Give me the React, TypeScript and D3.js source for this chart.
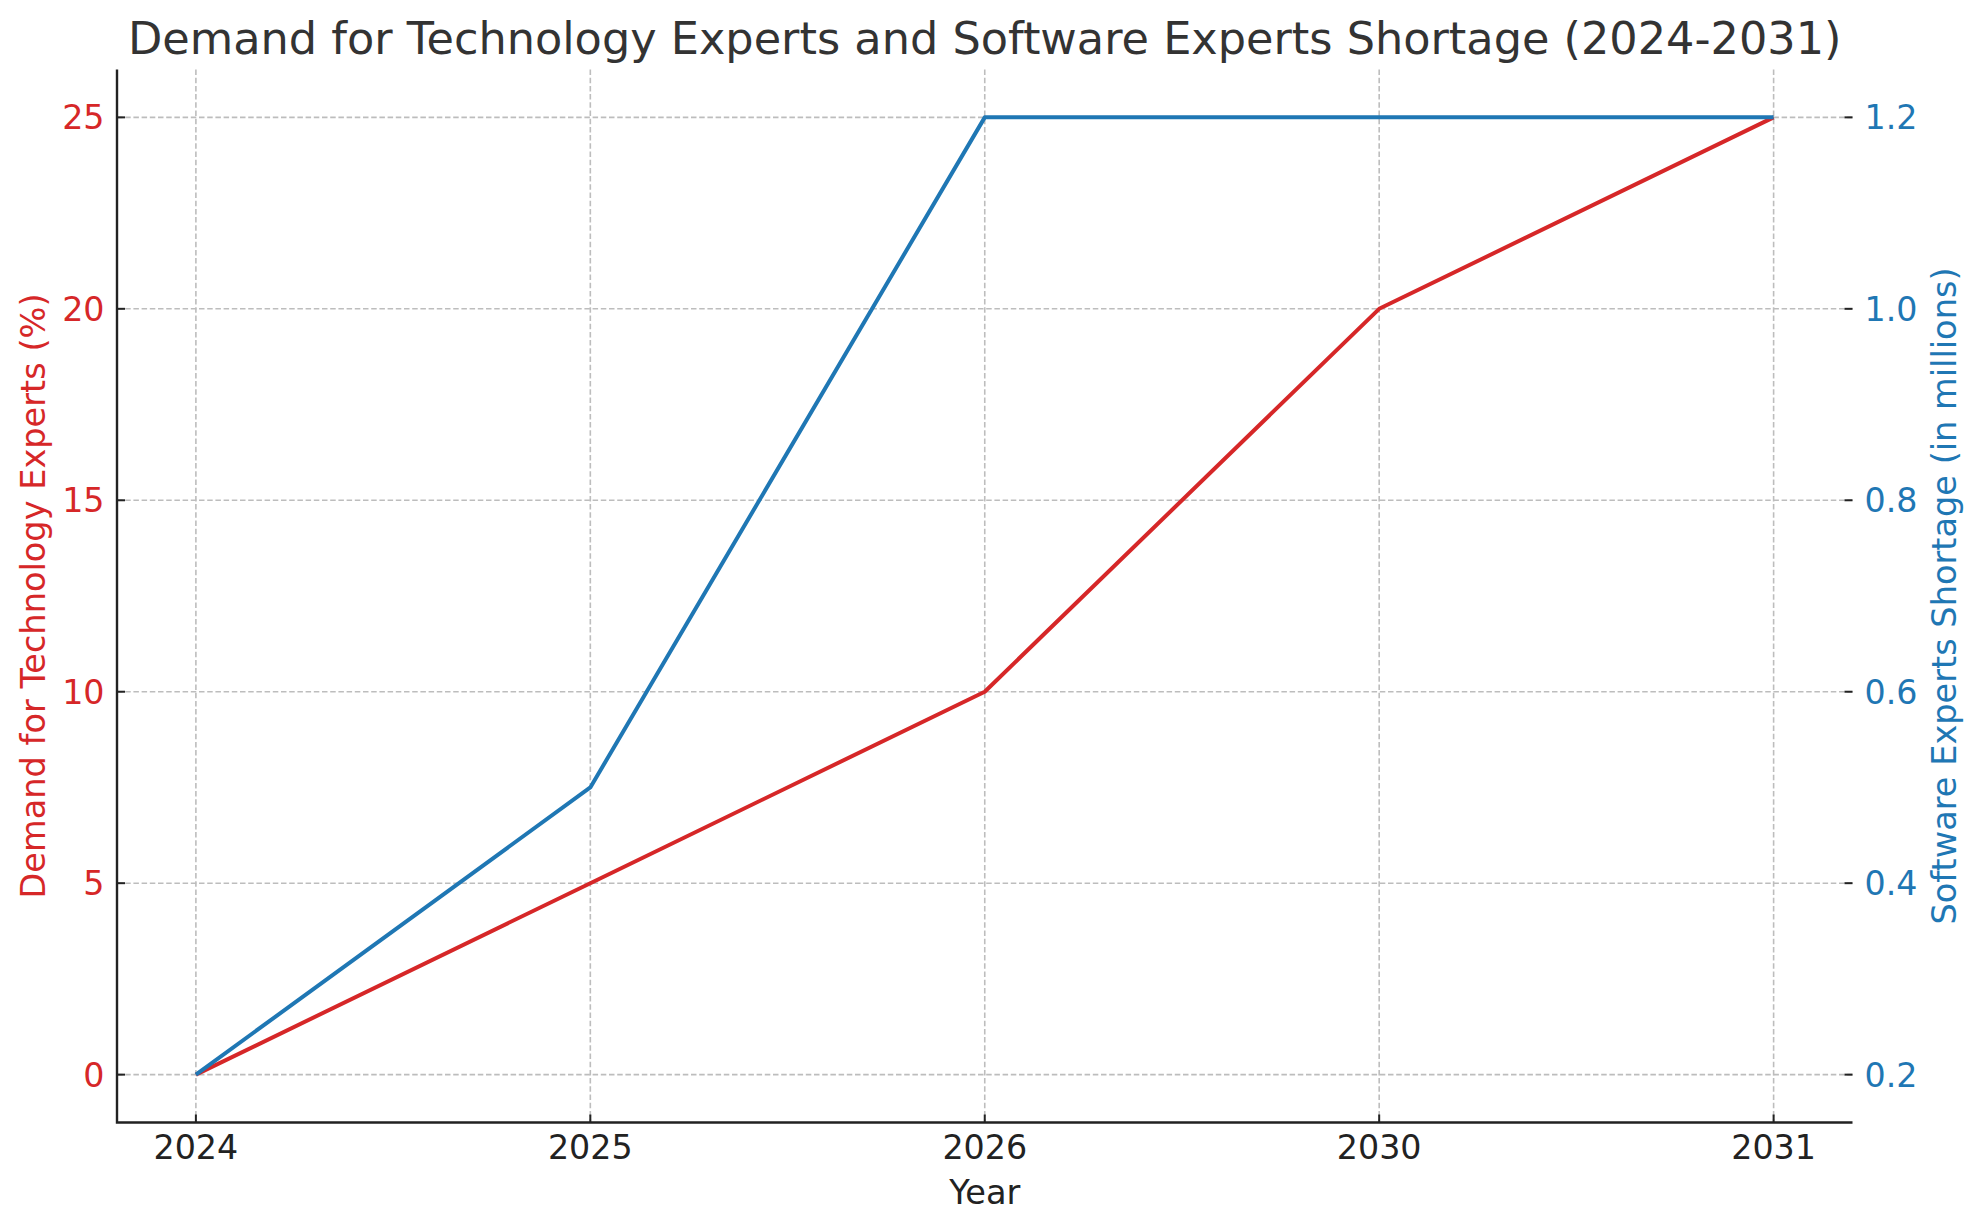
import { useEffect, useRef } from 'react';
import * as d3 from 'd3';

const years = ['2024', '2025', '2026', '2030', '2031'];
const demandPct = [0, 5, 10, 20, 25];
const shortageMillions = [0.2, 0.5, 1.2, 1.2, 1.2];
const leftTicks = [0, 5, 10, 15, 20, 25];
const rightTicks = [0.2, 0.4, 0.6, 0.8, 1.0, 1.2];

const W = 1979;
const H = 1230;
const MARGIN = { top: 69.5, right: W - 1852.5, bottom: H - 1122.5, left: 117 };

const color = {
  red: '#d62728',
  blue: '#1f77b4',
  grid: '#bdbdbd',
  axis: '#222222',
  title: '#333333',
};

const FONT = '"DejaVu Sans", sans-serif';

// matplotlib-ish 5% margin around the data range
const padded = (vals: number[]) => {
  const [lo, hi] = d3.extent(vals) as [number, number];
  const m = (hi - lo) * 0.05;
  return [lo - m, hi + m];
};

const App = () => {
  const ref = useRef<SVGSVGElement>(null);

  useEffect(() => {
    const svg = d3.select(ref.current);
    svg.selectAll('*').remove();

    const x = d3
      .scalePoint<string>()
      .domain(years)
      .range([MARGIN.left, W - MARGIN.right])
      .padding(0.2);
    const yL = d3
      .scaleLinear()
      .domain(padded(demandPct))
      .range([H - MARGIN.bottom, MARGIN.top]);
    const yR = d3
      .scaleLinear()
      .domain(padded(shortageMillions))
      .range([H - MARGIN.bottom, MARGIN.top]);

    const top = MARGIN.top;
    const bottom = H - MARGIN.bottom;
    const left = MARGIN.left;
    const right = W - MARGIN.right;

    // grid
    const grid = svg.append('g').attr('stroke', color.grid).attr('stroke-width', 1.6).attr('stroke-dasharray', '5.5,2.7');
    grid
      .selectAll('line.v')
      .data(years)
      .join('line')
      .attr('x1', d => x(d)!)
      .attr('x2', d => x(d)!)
      .attr('y1', top)
      .attr('y2', bottom);
    grid
      .selectAll('line.h')
      .data(leftTicks)
      .join('line')
      .attr('x1', left)
      .attr('x2', right)
      .attr('y1', d => yL(d))
      .attr('y2', d => yL(d));

    // lines
    const redLine = d3
      .line<number>()
      .x((_, i) => x(years[i])!)
      .y(d => yL(d));
    svg
      .append('path')
      .attr('d', redLine(demandPct))
      .attr('fill', 'none')
      .attr('stroke', color.red)
      .attr('stroke-width', 4)
      .attr('stroke-linejoin', 'round')
      .attr('stroke-linecap', 'butt');

    const blueLine = d3
      .line<number>()
      .x((_, i) => x(years[i])!)
      .y(d => yR(d));
    svg
      .append('path')
      .attr('d', blueLine(shortageMillions))
      .attr('fill', 'none')
      .attr('stroke', color.blue)
      .attr('stroke-width', 4)
      .attr('stroke-linejoin', 'round')
      .attr('stroke-linecap', 'butt');

    // spines (left + bottom only)
    svg
      .append('path')
      .attr('d', `M${left},${top}V${bottom}H${right}`)
      .attr('fill', 'none')
      .attr('stroke', color.axis)
      .attr('stroke-width', 2.4);

    // ticks (pointing inward)
    const TL = 8;
    const ticks = svg.append('g').attr('stroke', color.axis).attr('stroke-width', 2);
    ticks
      .selectAll('line.x')
      .data(years)
      .join('line')
      .attr('x1', d => x(d)!)
      .attr('x2', d => x(d)!)
      .attr('y1', bottom)
      .attr('y2', bottom - TL);
    const ticksL = svg.append('g').attr('stroke', color.axis).attr('stroke-width', 2);
    ticksL
      .selectAll('line')
      .data(leftTicks)
      .join('line')
      .attr('x1', left)
      .attr('x2', left + TL)
      .attr('y1', d => yL(d))
      .attr('y2', d => yL(d));
    const ticksR = svg.append('g').attr('stroke', color.axis).attr('stroke-width', 2);
    ticksR
      .selectAll('line')
      .data(rightTicks)
      .join('line')
      .attr('x1', right)
      .attr('x2', right - TL)
      .attr('y1', d => yR(d))
      .attr('y2', d => yR(d));

    const FS = 33.3;
    // tick labels
    svg
      .append('g')
      .selectAll('text')
      .data(years)
      .join('text')
      .attr('x', d => x(d)!)
      .attr('y', bottom + 12 + FS * 0.74)
      .attr('text-anchor', 'middle')
      .attr('font-family', FONT)
      .attr('font-size', FS)
      .attr('fill', color.axis)
      .text(d => d);
    svg
      .append('g')
      .selectAll('text')
      .data(leftTicks)
      .join('text')
      .attr('x', left - 12.5)
      .attr('y', d => yL(d))
      .attr('dy', '0.36em')
      .attr('text-anchor', 'end')
      .attr('font-family', FONT)
      .attr('font-size', FS)
      .attr('fill', color.red)
      .text(d => d3.format('d')(d));
    svg
      .append('g')
      .selectAll('text')
      .data(rightTicks)
      .join('text')
      .attr('x', right + 12)
      .attr('y', d => yR(d))
      .attr('dy', '0.36em')
      .attr('text-anchor', 'start')
      .attr('font-family', FONT)
      .attr('font-size', FS)
      .attr('fill', color.blue)
      .text(d => d3.format('.1f')(d));

    // axis labels
    svg
      .append('text')
      .attr('x', (left + right) / 2)
      .attr('y', 1203.5)
      .attr('text-anchor', 'middle')
      .attr('font-family', FONT)
      .attr('font-size', 33.6)
      .attr('fill', color.axis)
      .text('Year');
    svg
      .append('text')
      .attr('transform', `translate(45,${(top + bottom) / 2}) rotate(-90)`)
      .attr('text-anchor', 'middle')
      .attr('font-family', FONT)
      .attr('font-size', 33.6)
      .attr('fill', color.red)
      .text('Demand for Technology Experts (%)');
    svg
      .append('text')
      .attr('transform', `translate(1956,${(top + bottom) / 2}) rotate(-90)`)
      .attr('text-anchor', 'middle')
      .attr('font-family', FONT)
      .attr('font-size', 33.6)
      .attr('fill', color.blue)
      .text('Software Experts Shortage (in millions)');

    // title
    svg
      .append('text')
      .attr('x', (left + right) / 2)
      .attr('y', 54)
      .attr('text-anchor', 'middle')
      .attr('font-family', FONT)
      .attr('font-size', 44.6)
      .attr('fill', color.title)
      .text('Demand for Technology Experts and Software Experts Shortage (2024-2031)');
  }, []);

  return (
    <div style={{ position: 'absolute', left: 0, top: 0 }}>
      <svg ref={ref} width={W} height={H} style={{ display: 'block', background: '#fff' }} />
    </div>
  );
};

export default App;
